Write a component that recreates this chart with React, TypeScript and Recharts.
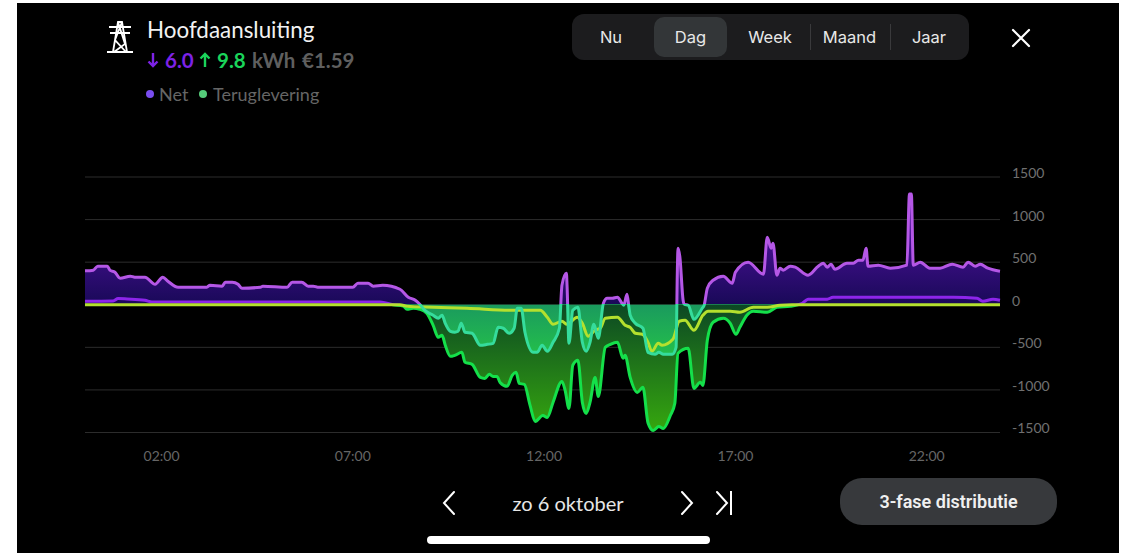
import { Area, CartesianGrid, ComposedChart, Line, XAxis, YAxis } from "recharts";

const FONT = "Lato, sans-serif";
const UI_FONT = "Inter, Roboto, sans-serif";

const hourTicks = [120, 420, 720, 1020, 1320];
const hourLabels = ["02:00", "07:00", "12:00", "17:00", "22:00"];
const powerTicks = [-1500, -1000, -500, 0, 500, 1000, 1500];
const periods = ["Nu", "Dag", "Week", "Maand", "Jaar"];

// minutes since midnight, watts
const netMinutes = [
  0, 13, 20, 35, 39, 47, 55, 71, 78, 94, 110, 122, 130, 146, 191, 196, 215, 220, 231, 240, 246, 275, 279, 317, 325,
  340, 350, 358, 365, 420, 428, 444, 452, 467, 494, 507, 518, 525, 533, 546, 554, 560, 565, 573, 580, 585, 590, 596,
  607, 620, 631, 640, 648, 656, 665, 673, 678, 684, 690, 703, 709, 717, 725, 734, 744, 748, 755, 756, 759, 765, 773,
  780, 786, 792, 798, 805, 813, 819, 827, 835, 842, 845, 850, 853, 855, 863, 875, 883, 894, 900, 907, 921, 927, 929,
  930, 933, 938, 940, 946, 955, 968, 971, 976, 985, 1001, 1015, 1020, 1040, 1064, 1070, 1076, 1079, 1085, 1090, 1095,
  1106, 1114, 1134, 1150, 1158, 1164, 1170, 1176, 1195, 1205, 1213, 1220, 1225, 1228, 1244, 1263, 1289, 1293, 1296,
  1299, 1310, 1325, 1341, 1360, 1377, 1385, 1396, 1404, 1416, 1435,
];
const netValues = [
  398, 406, 453, 453, 406, 382, 312, 335, 324, 324, 241, 324, 276, 206, 206, 229, 218, 265, 265, 241, 194, 206, 218,
  206, 265, 265, 218, 218, 206, 206, 253, 253, 218, 229, 182, 88, 53, 6, -65, -123, -159, -123, -218, -312, -323,
  -312, -218, -323, -335, -476, -465, -453, -265, -276, -335, -276, -41, -41, -323, -559, -559, -476, -547, -441, -276,
  229, 370, 229, -453, -65, -29, -441, -547, -441, -229, -394, 18, 76, 76, 88, 18, -6, 123, -29, -123, -218, -276,
  -559, -582, -559, -582, -582, -500, 406, 664, 559, 53, 6, -6, -171, -41, -6, 194, 288, 335, 253, 382, 500, 359, 794,
  664, 723, 347, 429, 406, 453, 441, 347, 453, 488, 441, 476, 417, 488, 488, 523, 523, 664, 453, 465, 429, 465, 1300,
  1300, 465, 500, 429, 429, 476, 441, 500, 453, 476, 429, 394,
];

const returnMinutes = [
  0, 44, 52, 66, 94, 105, 463, 483, 499, 505, 515, 525, 536, 546, 554, 560, 565, 573, 580, 591, 596, 607, 620, 627,
  634, 640, 646, 651, 662, 670, 676, 681, 689, 698, 706, 718, 725, 734, 748, 753, 759, 765, 773, 780, 786, 792, 800,
  805, 816, 824, 835, 844, 847, 855, 866, 875, 883, 891, 900, 907, 918, 925, 930, 946, 955, 965, 969, 976, 985, 1001,
  1012, 1021, 1027, 1038, 1048, 1070, 1085, 1106, 1125, 1134, 1164, 1173, 1263, 1362, 1399, 1408, 1424, 1435,
];
const returnValues = [
  41, 45, 73, 68, 53, 33, 33, 0, -14, -53, -41, -53, -100, -241, -382, -359, -476, -606, -594, -559, -676, -700, -853,
  -865, -817, -841, -841, -912, -958, -829, -794, -923, -935, -1182, -1370, -1300, -1323, -1147, -900, -1005, -1217,
  -711, -653, -1147, -1276, -1147, -853, -1076, -500, -465, -441, -629, -594, -853, -1029, -970, -1388, -1476, -1429,
  -1452, -1300, -1158, -570, -512, -982, -911, -947, -417, -206, -159, -218, -347, -265, -123, -76, -88, -29, -18, 18,
  65, 65, 88, 88, 88, 76, 41, 65, 53,
];

const solarMinutes = [
  0, 494, 505, 546, 599, 671, 714, 725, 734, 748, 756, 772, 780, 789, 800, 808, 816, 835, 847, 855, 863, 874, 883, 889,
  899, 905, 922, 932, 941, 955, 969, 977, 1012, 1027, 1048, 1070, 1090, 1109, 1435,
];
const solarValues = [
  0, 0, -18, -29, -41, -65, -65, -147, -229, -194, -229, -147, -218, -370, -300, -276, -159, -147, -241, -265, -335,
  -347, -441, -547, -453, -476, -406, -194, -182, -300, -124, -76, -76, -88, -29, -29, -6, 0, 0,
];

const toRows = (minutes: number[], values: number[]) => minutes.map((minute, i) => ({ minute, value: values[i] }));
const netData = toRows(netMinutes, netValues);
const returnData = toRows(returnMinutes, returnValues);
const solarData = toRows(solarMinutes, solarValues);

const box = (left: number, top: number, width: number, height: number): React.CSSProperties => ({
  position: "absolute",
  left,
  top,
  width,
  height,
});

const Chevron = ({ x, flip }: { x: number; flip?: boolean }) => (
  <svg style={box(x, 490, 14, 26)} viewBox="0 0 14 26">
    <path
      d={flip ? "M2 2 L12 13 L2 24" : "M12 2 L2 13 L12 24"}
      fill="none"
      stroke="#fff"
      strokeWidth={2}
      strokeLinecap="round"
    />
  </svg>
);

const Label = ({ x, y, w, children, style }: any) => (
  <div
    style={{
      position: "absolute",
      left: x,
      top: y,
      width: w,
      textAlign: "center",
      whiteSpace: "nowrap",
      fontFamily: UI_FONT,
      color: "#e8e8e8",
      ...style,
    }}
  >
    {children}
  </div>
);

const Stat = ({ x, color, children, size = 20.5 }: any) => (
  <div style={{ position: "absolute", left: x, top: 48, fontFamily: FONT, fontSize: size, fontWeight: 700, color, whiteSpace: "nowrap" }}>
    {children}
  </div>
);

const Arrow = ({ x, color, up }: { x: number; color: string; up?: boolean }) => (
  <svg style={box(x, 52, 12, 16)} viewBox="0 0 12 16" fill="none" stroke={color} strokeWidth={2.4}>
    <path d={up ? "M6 15 V2 M1.5 6.5 L6 2 L10.5 6.5" : "M6 1 V14 M1.5 9.5 L6 14 L10.5 9.5"} />
  </svg>
);

const App = () => {
  return (
    <div style={{ position: "absolute", left: 0, top: 0, width: 1127, height: 553, background: "#fff", overflow: "hidden" }}>
      <div style={{ ...box(17, 3, 1102, 550), background: "#000" }} />

      <svg style={box(105, 18, 30, 36)} viewBox="0 0 30 36" fill="none" stroke="#fff" strokeWidth={1.8}>
        <path d="M2 34 H28 M8 34 L13 4 H17 L22 34 M4 9 H26 M5 15 H25 M13 4 L20 26 L9 34 M17 4 L10 22 L21 34" />
      </svg>
      <div style={{ position: "absolute", left: 147, top: 16, fontFamily: FONT, fontSize: 22.4, color: "#f2f2f2" }}>
        Hoofdaansluiting
      </div>
      <Arrow x={147} color="#7d22e6" />
      <Stat x={165} color="#7d22e6">6.0</Stat>
      <Arrow x={199} color="#1ad45a" up />
      <Stat x={217} color="#1ad45a">9.8</Stat>
      <Stat x={252} color="#5f5f5f">kWh</Stat>
      <Stat x={302} color="#5f5f5f">€1.59</Stat>
      <div style={{ ...box(146, 90, 8, 8), borderRadius: 4, background: "#7a4df0" }} />
      <div style={{ position: "absolute", left: 159, top: 83, fontFamily: FONT, fontSize: 18, color: "#666" }}>Net</div>
      <div style={{ ...box(199, 90, 8, 8), borderRadius: 4, background: "#55cc7a" }} />
      <div style={{ position: "absolute", left: 213, top: 83, fontFamily: FONT, fontSize: 18, color: "#666" }}>
        Teruglevering
      </div>

      <div style={{ ...box(572, 14, 397, 46), background: "#1c1c1e", borderRadius: 12 }} />
      <div style={{ ...box(654, 17, 73, 40), background: "#333638", borderRadius: 10 }} />
      <div style={{ ...box(810, 24, 1, 26), background: "#3a3a3c" }} />
      <div style={{ ...box(890, 24, 1, 26), background: "#3a3a3c" }} />
      {periods.map((p, i) => (
        <Label key={p} x={571 + i * 79.5} y={27} w={80} style={{ fontSize: 16.5 }}>
          {p}
        </Label>
      ))}
      <svg style={box(1011, 28, 20, 20)} viewBox="0 0 20 20">
        <path d="M2 2 L18 18 M18 2 L2 18" stroke="#fff" strokeWidth={2.2} strokeLinecap="round" />
      </svg>

      <div style={{ position: "absolute", left: 0, top: 0 }}>
        <ComposedChart
          width={1127}
          height={553}
          margin={{ left: 85, right: 67, top: 177, bottom: 90.5 }}
        >
          <defs>
            <linearGradient id="netFill" gradientUnits="userSpaceOnUse" x1="0" y1="177" x2="0" y2="432.5">
              <stop offset="0.25" stopColor="#43108e" />
              <stop offset="0.499" stopColor="#190958" />
              <stop offset="0.499" stopColor="#1a9a5e" />
              <stop offset="0.7" stopColor="#24c04a" />
            </linearGradient>
            <linearGradient id="returnFill" gradientUnits="userSpaceOnUse" x1="0" y1="177" x2="0" y2="432.5">
              <stop offset="0.25" stopColor="#43108e" />
              <stop offset="0.499" stopColor="#190958" />
              <stop offset="0.499" stopColor="#0c4824" />
              <stop offset="1" stopColor="#36a80e" />
            </linearGradient>
            <linearGradient id="netStroke" gradientUnits="userSpaceOnUse" x1="0" y1="177" x2="0" y2="432.5">
              <stop offset="0.499" stopColor="#b557e6" />
              <stop offset="0.499" stopColor="#35dc9c" />
            </linearGradient>
            <linearGradient id="returnStroke" gradientUnits="userSpaceOnUse" x1="0" y1="177" x2="0" y2="432.5">
              <stop offset="0.499" stopColor="#8d25ea" />
              <stop offset="0.499" stopColor="#14e04a" />
            </linearGradient>
          </defs>
          <CartesianGrid horizontal vertical={false} stroke="#2c2c2c" strokeWidth={1} />
          <XAxis
            dataKey="minute"
            type="number"
            domain={[0, 1435]}
            ticks={hourTicks}
            tickFormatter={(m: number) => hourLabels[hourTicks.indexOf(m)]}
            axisLine={false}
            tickLine={false}
            tickMargin={13}
            height={30}
            allowDuplicatedCategory={false}
            tick={{ fontSize: 14, fill: "#666", fontFamily: FONT }}
          />
          <YAxis
            orientation="right"
            domain={[-1500, 1500]}
            ticks={powerTicks}
            interval={0}
            axisLine={false}
            tickLine={false}
            tickMargin={6}
            width={60}
            tick={{ fontSize: 14, fill: "#707070", fontFamily: FONT, dy: -4 }}
          />
          <Area data={returnData} dataKey="value" type="monotone" stroke="none" fill="url(#returnFill)" fillOpacity={1} isAnimationActive={false} dot={false} activeDot={false} />
          <Area data={netData} dataKey="value" type="monotone" stroke="none" fill="url(#netFill)" fillOpacity={1} isAnimationActive={false} dot={false} activeDot={false} />
          <Line data={returnData} dataKey="value" type="monotone" stroke="url(#returnStroke)" strokeWidth={3} isAnimationActive={false} dot={false} activeDot={false} />
          <Line data={solarData} dataKey="value" type="monotone" stroke="#b4e02e" strokeWidth={3} isAnimationActive={false} dot={false} activeDot={false} />
          <Line data={netData} dataKey="value" type="monotone" stroke="url(#netStroke)" strokeWidth={3} isAnimationActive={false} dot={false} activeDot={false} />
        </ComposedChart>
      </div>

      <Chevron x={442} />
      <Label x={488} y={491} w={160} style={{ fontSize: 20, fontFamily: FONT, color: "#e6e6e6" }}>
        zo 6 oktober
      </Label>
      <Chevron x={680} flip />
      <Chevron x={715} flip />
      <div style={{ ...box(730, 491, 2, 24), background: "#fff" }} />
      <div style={{ ...box(840, 478, 217, 47), background: "#37393c", borderRadius: 22 }} />
      <Label x={840} y={491} w={217} style={{ fontSize: 18, fontWeight: 600, color: "#f0f0f0", fontFamily: "Roboto, sans-serif" }}>
        3-fase distributie
      </Label>
      <div style={{ ...box(427, 536, 283, 8), background: "#fff", borderRadius: 4 }} />
    </div>
  );
};

export default App;
